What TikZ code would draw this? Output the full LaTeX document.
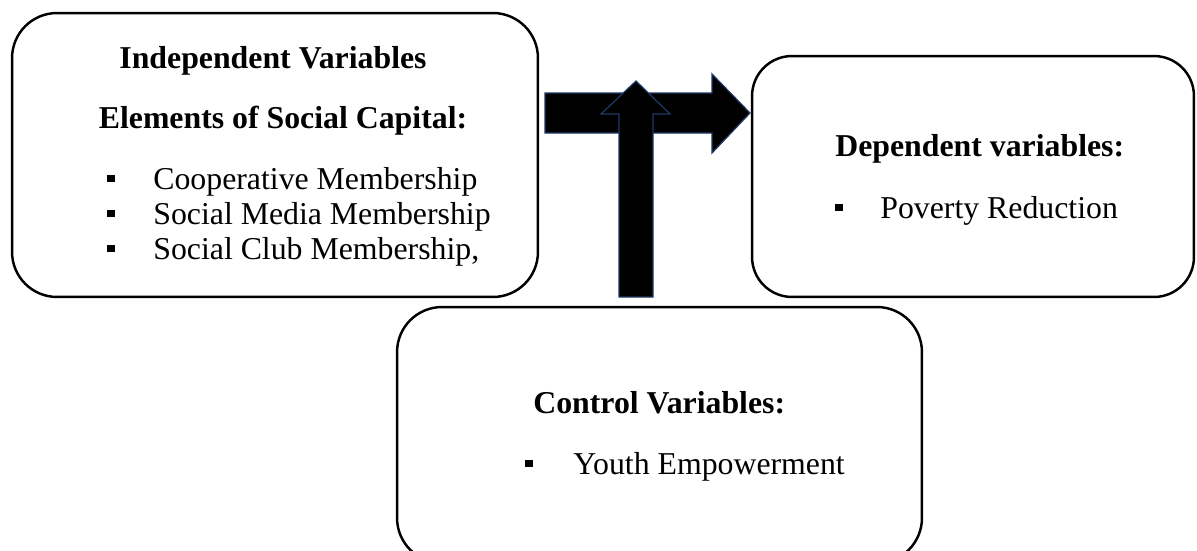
\documentclass[tikz,border=0pt]{standalone}
\usepackage{fontspec}
\setmainfont{Liberation Serif}
\definecolor{arrowline}{HTML}{1F3864}
\newcommand\sqbullet{\rule[0.14cm]{0.16cm}{0.15cm}}
\begin{document}
\begin{tikzpicture}[x=0.02cm,y=-0.02cm,
  varbox/.style={draw=black, line width=1.4pt, inner sep=0pt},
  blockarrow/.style={fill=black, draw=arrowline, line width=0.7pt, line join=miter},
  heading/.style={font=\fontsize{18.1}{22}\selectfont\bfseries, inner sep=0pt, anchor=base},
  item/.style={font=\fontsize{18.1}{22}\selectfont, inner sep=0pt, anchor=base west}]
\useasboundingbox (0,0) rectangle (1197,551);

% the three variable boxes
\node[varbox, rounded corners=0.9cm, minimum width=10.52cm, minimum height=5.68cm] (indep) at (275,155) {};
\node[varbox, rounded corners=0.8cm, minimum width=8.84cm, minimum height=4.82cm] (dep) at (973,176.5) {};
\node[varbox, rounded corners=0.9cm, minimum width=10.5cm, minimum height=5.12cm] (ctrl) at (659.5,435) {};

% independent variables
\node[heading] (indepT) at (273,68) {Independent Variables};
\node[heading] (indepS) at (283,128) {Elements of Social Capital:};
\node[item] (i1) at (107,189) {\makebox[0.92cm][l]{\sqbullet}Cooperative Membership};
\node[item] (i2) at (107,224) {\makebox[0.92cm][l]{\sqbullet}Social Media Membership};
\node[item] (i3) at (107,259) {\makebox[0.92cm][l]{\sqbullet}Social Club Membership,};

% dependent variables
\node[heading, anchor=base west] (depT) at (835,156) {Dependent variables:};
\node[item] (d1) at (835,218) {\makebox[0.9cm][l]{\sqbullet}Poverty Reduction};

% control variables
\node[heading, anchor=base west] (ctrlT) at (533,413) {Control Variables:};
\node[item] (c1) at (525,474) {\makebox[0.96cm][l]{\sqbullet}Youth Empowerment};

% block arrows: independent -> dependent, control -> upwards
\draw[blockarrow] (545,93) -- (712,93) -- (712,74) -- (750,113) -- (712,153)
  -- (712,133) -- (545,133) -- cycle;
\draw[blockarrow] (619,297) -- (619,114) -- (601,114) -- (636,81) -- (670,114)
  -- (653,114) -- (653,297) -- cycle;
\end{tikzpicture}
\end{document}
